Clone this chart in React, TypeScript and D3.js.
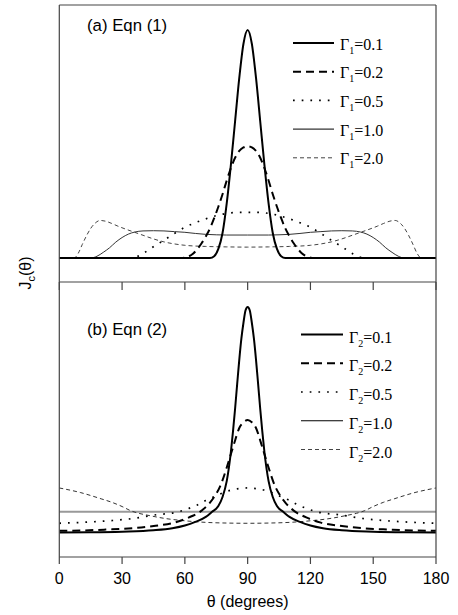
import React from 'react';
import * as d3 from 'd3';

// ---------- data ----------
const xTicks = [0, 30, 60, 90, 120, 150, 180];
const gammaLabels = ['0.1', '0.2', '0.5', '1.0', '2.0'];

// Panel (a): Eqn (1)
const a01: [number, number][] = [[0,0],[72,0],[74,0.008],[76,0.04],[78,0.11],[80,0.24],[82,0.41],[84,0.6],[86,0.79],[88,0.94],[90,1],[92,0.94],[94,0.79],[96,0.6],[98,0.41],[100,0.24],[102,0.11],[104,0.04],[106,0.008],[108,0],[180,0]];
const a02: [number, number][] = [[0,0],[58,0],[60,0.002],[62,0.008],[64,0.02],[66,0.04],[68,0.065],[70,0.095],[72,0.13],[74,0.175],[76,0.225],[78,0.28],[80,0.34],[82,0.395],[84,0.44],[86,0.47],[88,0.485],[90,0.49],[92,0.485],[94,0.47],[96,0.44],[98,0.395],[100,0.34],[102,0.28],[104,0.225],[106,0.175],[108,0.13],[110,0.095],[112,0.065],[114,0.04],[116,0.02],[118,0.008],[120,0.002],[122,0],[180,0]];
const a05: [number, number][] = [[0,0],[34,0],[37,0.006],[40,0.02],[45,0.05],[50,0.078],[55,0.108],[60,0.135],[65,0.155],[70,0.172],[75,0.186],[80,0.196],[85,0.2],[90,0.2],[95,0.2],[100,0.196],[105,0.186],[110,0.172],[115,0.155],[120,0.135],[125,0.108],[130,0.078],[135,0.05],[140,0.02],[143,0.006],[146,0],[180,0]];
const a10: [number, number][] = [[0,0],[15,0],[18,0.008],[21,0.025],[24,0.045],[27,0.07],[30,0.09],[33,0.105],[36,0.114],[40,0.119],[45,0.12],[50,0.119],[55,0.116],[60,0.113],[65,0.108],[70,0.104],[75,0.102],[80,0.101],[90,0.101],[100,0.101],[105,0.102],[110,0.104],[115,0.108],[120,0.113],[125,0.116],[130,0.119],[135,0.12],[140,0.119],[144,0.114],[147,0.105],[150,0.09],[153,0.07],[156,0.045],[159,0.025],[162,0.008],[165,0],[180,0]];
const a20: [number, number][] = [[0,0],[7,0],[9,0.02],[11,0.06],[13,0.098],[15,0.13],[17,0.152],[19.5,0.165],[22,0.162],[25,0.152],[28,0.14],[32,0.126],[36,0.113],[40,0.1],[45,0.084],[50,0.071],[55,0.062],[60,0.056],[70,0.051],[80,0.049],[90,0.048],[100,0.049],[110,0.051],[120,0.056],[125,0.062],[130,0.071],[135,0.084],[140,0.1],[144,0.113],[148,0.126],[152,0.14],[155,0.152],[158,0.162],[160.5,0.165],[163,0.152],[165,0.13],[167,0.098],[169,0.06],[171,0.02],[173,0],[180,0]];

// Panel (b): Eqn (2)
const b01: [number, number][] = [[0,0.003],[15,0.004],[30,0.007],[45,0.013],[54,0.022],[60,0.034],[65,0.05],[70,0.072],[73,0.095],[76,0.12],[78,0.16],[80,0.23],[82,0.36],[83,0.45],[84,0.55],[85,0.66],[87,0.86],[88,0.93],[89,0.985],[90,1],[91,0.985],[92,0.93],[93,0.86],[95,0.66],[96,0.55],[97,0.45],[98,0.36],[100,0.23],[102,0.16],[104,0.12],[107,0.095],[110,0.072],[115,0.05],[120,0.034],[126,0.022],[135,0.013],[150,0.007],[165,0.004],[180,0.003]];
const b02: [number, number][] = [[0,0.011],[10,0.012],[22,0.016],[35,0.022],[46,0.033],[55,0.047],[62,0.07],[68,0.1],[72,0.135],[74,0.16],[77,0.21],[80,0.29],[82,0.35],[84,0.41],[85,0.44],[86,0.465],[88,0.49],[90,0.5],[92,0.49],[94,0.465],[95,0.44],[96,0.41],[98,0.35],[100,0.29],[103,0.21],[106,0.16],[108,0.135],[112,0.1],[118,0.07],[125,0.047],[134,0.033],[145,0.022],[158,0.016],[170,0.012],[180,0.011]];
const b05: [number, number][] = [[0,0.044],[15,0.05],[25,0.056],[35,0.065],[45,0.08],[57,0.095],[62,0.11],[66,0.125],[70,0.145],[75,0.165],[80,0.185],[85,0.196],[90,0.2],[95,0.196],[100,0.185],[105,0.165],[110,0.145],[114,0.125],[118,0.11],[123,0.095],[135,0.08],[145,0.065],[155,0.056],[165,0.05],[180,0.044]];
const b10: [number, number][] = [[0,0.095],[180,0.095]];
const b20: [number, number][] = [[0,0.2],[10,0.18],[20,0.152],[25,0.137],[30,0.118],[34,0.1],[38,0.088],[42,0.08],[50,0.066],[60,0.055],[70,0.048],[80,0.045],[90,0.044],[100,0.045],[110,0.048],[120,0.055],[130,0.066],[138,0.08],[142,0.088],[146,0.1],[150,0.118],[155,0.137],[160,0.152],[170,0.18],[180,0.2]];

const seriesA = [a01, a02, a05, a10, a20];
const seriesB = [b01, b02, b05, b10, b20];

// ---------- layout / style ----------
const W = 458, H = 615;
const xL = 59.3, xR = 436;
const aTop = 5, mid = 282, bBot = 557;
const yDomain: [number, number] = [-0.105, 1.11];

const styleA = [
  { stroke: '#000', w: 2, dash: undefined as string | undefined },
  { stroke: '#000', w: 2, dash: '8,5' },
  { stroke: '#000', w: 1.7, dash: '1.7,7' },
  { stroke: '#333', w: 1, dash: undefined },
  { stroke: '#444', w: 1, dash: '4,3' },
];
const styleB = [
  styleA[0], styleA[1], styleA[2],
  { stroke: '#999', w: 1.8, dash: undefined },
  { stroke: '#333', w: 1, dash: '4,3' },
];
const legendStyle = styleA.map((s, i) => (i === 3 ? { stroke: '#000', w: 1, dash: undefined } : s));

const serif = '"Liberation Serif", "Times New Roman", serif';
const sans = '"Liberation Sans", Arial, Helvetica, sans-serif';

function Legend({ x1, x2, y0, step, sub, dyText }: { x1: number; x2: number; y0: number; step: number; sub: string; dyText: number }) {
  return (
    <g>
      {gammaLabels.map((lab, i) => {
        const y = y0 + i * step;
        const s = legendStyle[i];
        return (
          <g key={lab}>
            <line x1={x1} x2={x2} y1={y} y2={y} stroke={s.stroke} strokeWidth={s.w} strokeDasharray={s.dash} />
            <text x={x2 + 6} y={y + dyText} fontFamily={serif} fontSize={16} fill="#000">
              Γ<tspan fontSize={10} dy={4}>{sub}</tspan><tspan dy={-4}>={lab}</tspan>
            </text>
          </g>
        );
      })}
    </g>
  );
}

export default function App() {
  const x = d3.scaleLinear().domain([0, 180]).range([xL, xR]);
  const yA = d3.scaleLinear().domain(yDomain).range([mid, aTop]);
  const yB = d3.scaleLinear().domain(yDomain).range([bBot, mid]);
  const lineA = d3.line<[number, number]>().x(d => x(d[0])).y(d => yA(d[1])).curve(d3.curveMonotoneX);
  const lineB = d3.line<[number, number]>().x(d => x(d[0])).y(d => yB(d[1])).curve(d3.curveMonotoneX);
  const frame = '#444';

  return (
    <svg width={W} height={H} style={{ position: 'absolute', left: 0, top: 0, background: '#fff' }}>
      <defs>
        <clipPath id="clipA"><rect x={xL} y={aTop} width={xR - xL} height={mid - aTop} /></clipPath>
        <clipPath id="clipB"><rect x={xL} y={mid} width={xR - xL} height={bBot - mid} /></clipPath>
      </defs>

      <g clipPath="url(#clipA)">
        {[4, 3, 2, 1, 0].map(i => (
          <path key={i} d={lineA(seriesA[i]) || ''} fill="none" stroke={styleA[i].stroke}
            strokeWidth={styleA[i].w} strokeDasharray={styleA[i].dash} />
        ))}
      </g>
      <g clipPath="url(#clipB)">
        {[3, 4, 2, 1, 0].map(i => (
          <path key={i} d={lineB(seriesB[i]) || ''} fill="none" stroke={styleB[i].stroke}
            strokeWidth={styleB[i].w} strokeDasharray={styleB[i].dash} />
        ))}
      </g>

      <line x1={xL} x2={xR} y1={aTop} y2={aTop} stroke={frame} strokeWidth={1.2} />
      <line x1={xL} x2={xR} y1={mid} y2={mid} stroke={frame} strokeWidth={1.2} />
      <line x1={xL} x2={xR} y1={bBot} y2={bBot} stroke={frame} strokeWidth={1.2} />
      <line x1={xL} x2={xL} y1={aTop} y2={bBot} stroke={frame} strokeWidth={1.2} />
      <line x1={xR} x2={xR} y1={aTop} y2={bBot} stroke={frame} strokeWidth={1.2} />

      {xTicks.map(t => (
        <g key={'t' + t}>
          <line x1={x(t)} x2={x(t)} y1={mid} y2={mid + 8} stroke={frame} strokeWidth={1.2} />
          <line x1={x(t)} x2={x(t)} y1={bBot} y2={bBot + 7} stroke={frame} strokeWidth={1.2} />
          <text x={x(t)} y={584} textAnchor="middle" fontFamily={sans} fontSize={16} fill="#000">{t}</text>
        </g>
      ))}

      <text x={x(90)} y={607} textAnchor="middle" fontFamily={sans} fontSize={16} fill="#000">θ (degrees)</text>
      <text transform="translate(31,273) rotate(-90)" textAnchor="middle" fontFamily={sans} fontSize={16} fill="#000">
        J<tspan fontSize={11} dy={4}>c</tspan><tspan dy={-4}>(θ)</tspan>
      </text>

      <text x={87} y={31} fontFamily={sans} fontSize={16.8} fill="#000">(a) Eqn (1)</text>
      <text x={87} y={335} fontFamily={sans} fontSize={16.8} fill="#000">(b) Eqn (2)</text>

      <Legend x1={293} x2={334} y0={43} step={28.7} sub="1" dyText={6.5} />
      <Legend x1={301} x2={343} y0={334.5} step={28.75} sub="2" dyText={8} />
    </svg>
  );
}
